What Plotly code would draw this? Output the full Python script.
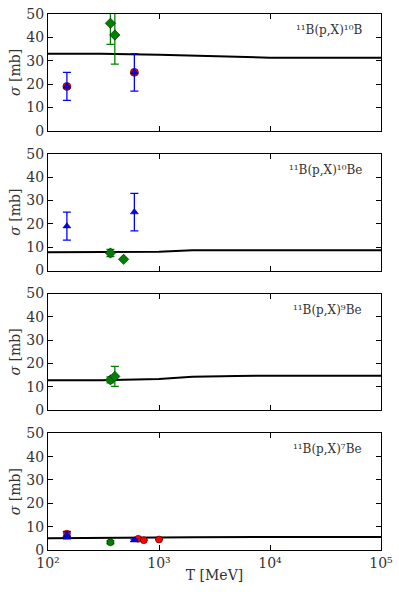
import plotly.graph_objects as go
from plotly.subplots import make_subplots

# model curves (T in MeV)
model_T = [100, 300, 1000, 2000, 5000, 10000, 100000]
model_10B = [33.0, 33.0, 32.6, 32.2, 31.6, 31.3, 31.3]
model_10Be = [7.8, 7.8, 8.0, 8.7, 8.7, 8.7, 8.7]
model_9Be = [12.8, 12.9, 13.4, 14.3, 14.7, 14.8, 14.8]
model_7Be = [5.0, 5.0, 5.3, 5.5, 5.6, 5.6, 5.6]

# measurements: (T, sigma, err)
red_10B_T = [148, 600];            red_10B = [19, 25];         red_10B_err = [0, 0]
blue_10B_T = [148, 600];           blue_10B = [19, 25];        blue_10B_err = [6, 8]
green_10B_T = [365, 400];          green_10B = [46, 41];       green_10B_err = [9, 12.5]

blue_10Be_T = [148, 600];          blue_10Be = [19, 25];       blue_10Be_err = [6, 8]
green_10Be_T = [365, 480];         green_10Be = [7.5, 4.8];    green_10Be_err = [1.5, 0]

green_9Be_T = [365, 400];          green_9Be = [13.0, 14.5];   green_9Be_err = [1.3, 4.3]

red_7Be_T = [148, 650, 730, 1000]; red_7Be = [7.0, 4.8, 4.2, 4.5]; red_7Be_err = [1.0, 0, 0, 0]
blue_7Be_T = [148, 600];           blue_7Be = [6.3, 4.2];      blue_7Be_err = [1.5, 0.5]
green_7Be_T = [365];               green_7Be = [3.3];          green_7Be_err = [0.6]

labels = ["¹¹B(p,X)¹⁰B", "¹¹B(p,X)¹⁰Be", "¹¹B(p,X)⁹Be", "¹¹B(p,X)⁷Be"]
xtick_vals = [100, 1000, 10000, 100000]
xtick_text = ["10²", "10³", "10⁴", "10⁵"]

FONT = "DejaVu Serif, Liberation Serif, serif"

fig = make_subplots(rows=4, cols=1, vertical_spacing=23 / 536)


def pts(x, y, err, color, symbol, size, row):
    fig.add_trace(go.Scatter(
        x=x, y=y, mode="markers",
        marker=dict(color=color, symbol=symbol, size=size,
                    line=dict(color="black", width=0.5)),
        error_y=dict(type="data", array=err, visible=True, color=color,
                     thickness=1.3, width=4),
        showlegend=False), row=row, col=1)


def model(y, row):
    fig.add_trace(go.Scatter(x=model_T, y=y, mode="lines",
                             line=dict(color="black", width=2),
                             showlegend=False), row=row, col=1)


model(model_10B, 1)
pts(red_10B_T, red_10B, red_10B_err, "#ff0000", "circle", 8, 1)
pts(blue_10B_T, blue_10B, blue_10B_err, "#0000ff", "triangle-up", 7, 1)
pts(green_10B_T, green_10B, green_10B_err, "#008000", "diamond", 8, 1)

model(model_10Be, 2)
pts(blue_10Be_T, blue_10Be, blue_10Be_err, "#0000ff", "triangle-up", 7, 2)
pts(green_10Be_T, green_10Be, green_10Be_err, "#008000", "diamond", 8, 2)

model(model_9Be, 3)
pts(green_9Be_T, green_9Be, green_9Be_err, "#008000", "diamond", 8, 3)

model(model_7Be, 4)
pts(red_7Be_T, red_7Be, red_7Be_err, "#ff0000", "circle", 7, 4)
pts(blue_7Be_T, blue_7Be, blue_7Be_err, "#0000ff", "triangle-up", 7, 4)
pts(green_7Be_T, green_7Be, green_7Be_err, "#008000", "circle", 7, 4)

for r in range(1, 5):
    fig.update_xaxes(type="log", range=[2, 5], showgrid=False, zeroline=False,
                     showline=True, linecolor="black", linewidth=1, mirror="allticks",
                     ticks="inside", ticklen=5, tickcolor="black", automargin=False,
                     tickvals=xtick_vals, ticktext=xtick_text, ticklabeloverflow="allow",
                     showticklabels=(r == 4),
                     tickfont=dict(size=14, color="#333", family=FONT),
                     row=r, col=1)
    fig.update_yaxes(range=[0, 50], showgrid=False, zeroline=False,
                     showline=True, linecolor="black", linewidth=1, mirror="allticks",
                     ticks="inside", ticklen=5, tickcolor="black", automargin=False,
                     tickvals=[0, 10, 20, 30, 40, 50], ticklabeloverflow="allow",
                     tickfont=dict(size=14, color="#333", family=FONT),
                     title=dict(text="<i>σ</i> [mb]", standoff=2,
                                font=dict(size=14, color="#333", family=FONT)),
                     row=r, col=1)
    yref = "y domain" if r == 1 else f"y{r} domain"
    xref = "x domain" if r == 1 else f"x{r} domain"
    fig.add_annotation(text=labels[r - 1], xref=xref, yref=yref, x=0.95, y=0.94,
                       xanchor="right", yanchor="top", showarrow=False,
                       font=dict(size=12, color="#333", family=FONT))

fig.update_xaxes(title=dict(text="T [MeV]", standoff=0,
                            font=dict(size=14, color="#333", family=FONT)),
                 row=4, col=1)

fig.update_layout(width=399, height=598, margin=dict(l=48, r=18, t=14, b=48),
                  plot_bgcolor="white", paper_bgcolor="white",
                  font=dict(family=FONT, color="#333"))

# drop the browser's default page margin so the figure fills the window
fig.write_html("out.html", config={"displayModeBar": False},
               post_script="document.body.style.margin='0';")
